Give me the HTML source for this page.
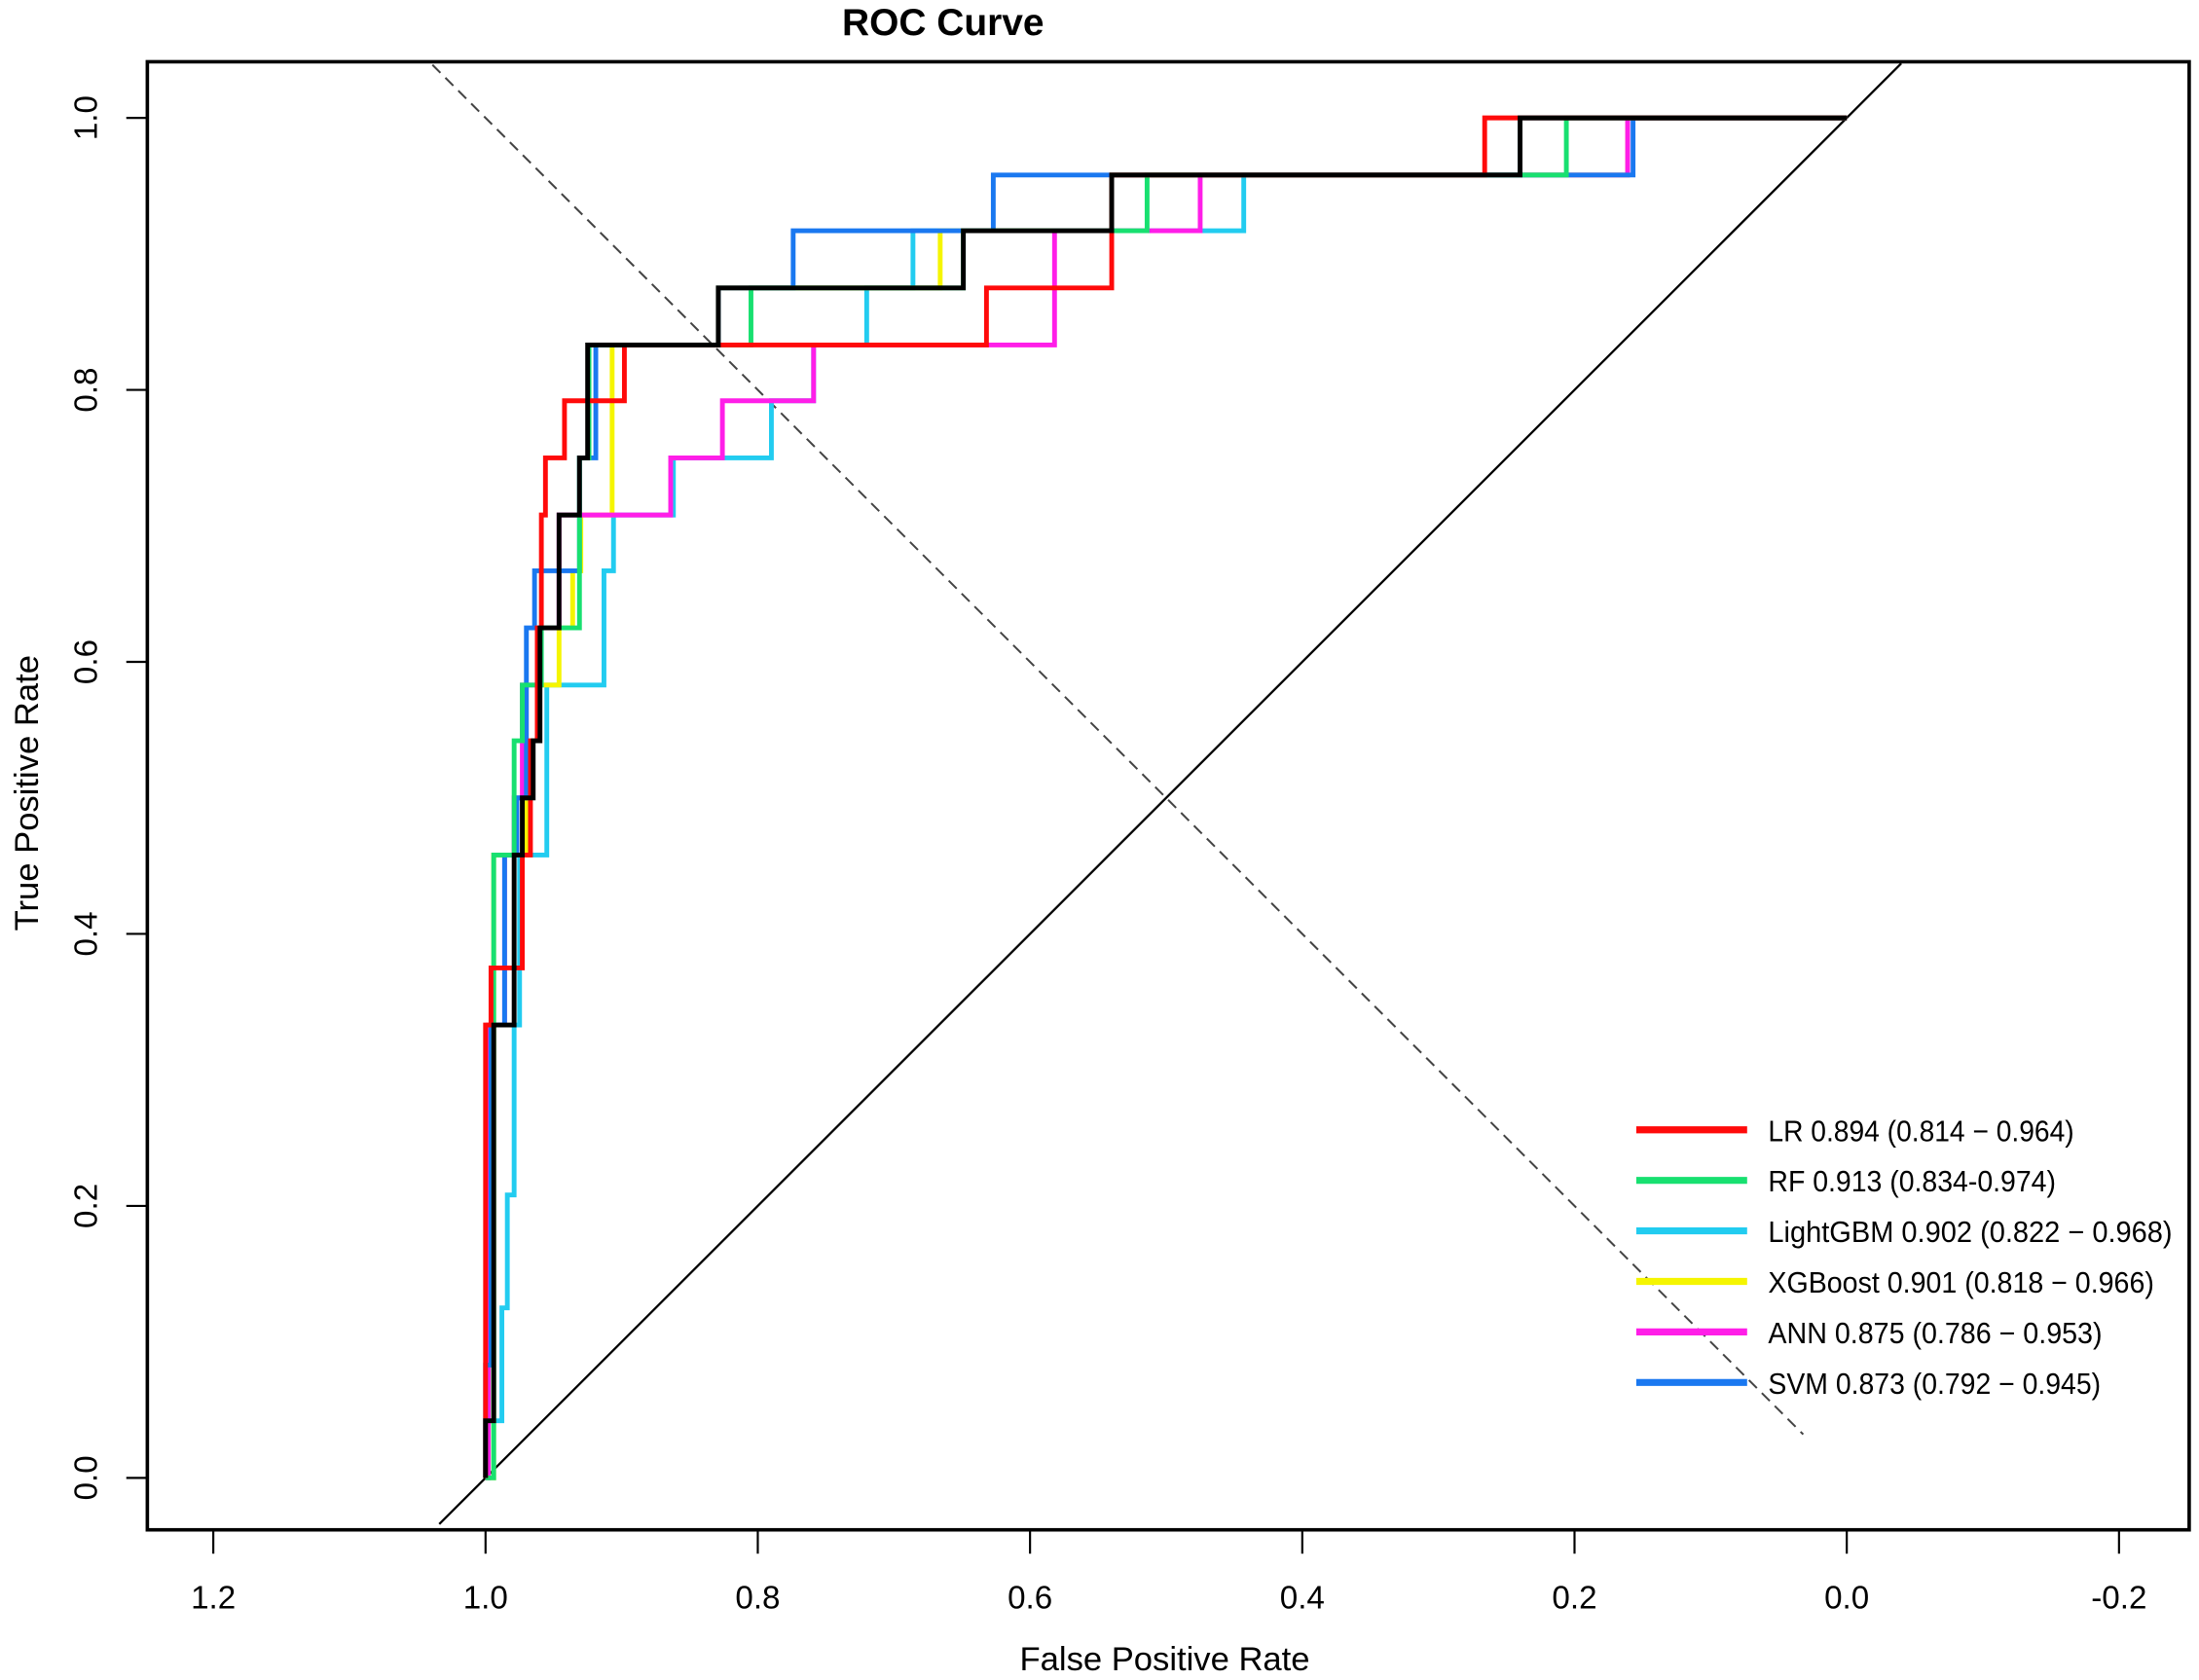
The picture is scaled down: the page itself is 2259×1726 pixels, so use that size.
<!DOCTYPE html>
<html><head><meta charset="utf-8">
<style>
html,body{margin:0;padding:0;background:#fff;}
svg{display:block;}
text{font-family:"Liberation Sans",sans-serif;}
</style></head>
<body>
<svg id="chart" width="2259" height="1726" viewBox="0 0 1567 1197" preserveAspectRatio="none" xmlns="http://www.w3.org/2000/svg">
<text x="672" y="25" text-anchor="middle" font-size="27" font-weight="bold">ROC Curve</text>
<g id="plot"></g>
<rect x="105" y="44" width="1455" height="1046" fill="none" stroke="#000" stroke-width="2.5"/>
<text x="830" y="1190" text-anchor="middle" font-size="24">False Positive Rate</text>
<text transform="translate(27,565) rotate(-90)" text-anchor="middle" font-size="24">True Positive Rate</text>
<g id="axes"></g>
<g id="legend"></g>
</svg>
<script>
const xTicks = [1.2, 1.0, 0.8, 0.6, 0.4, 0.2, 0.0, -0.2];
const xTickLabels = ["1.2","1.0","0.8","0.6","0.4","0.2","0.0","-0.2"];
const yTicks = [0.0, 0.2, 0.4, 0.6, 0.8, 1.0];
const yTickLabels = ["0.0","0.2","0.4","0.6","0.8","1.0"];
const seriesNames = ["LightGBM","XGBoost","ANN","SVM","RF","LR","Combined"];
const seriesColors = ["#22ccf0","#f5f500","#ff1ee8","#1a78f0","#18e070","#ff0a0a","#000000"];
const lgbmSpec = [0.998,0.988,0.984,0.979,0.975,0.955,0.913,0.906,0.862,0.790,0.759,0.720,0.686,0.443,0.240];
const lgbmSens = [0.042,0.125,0.208,0.333,0.458,0.583,0.667,0.708,0.750,0.792,0.833,0.875,0.917,0.958,1.0];
const xgbSpec = [0.994,0.970,0.962,0.946,0.936,0.930,0.907,0.829,0.666,0.540,0.161];
const xgbSens = [0.458,0.542,0.583,0.625,0.667,0.708,0.833,0.875,0.917,0.958,1.0];
const annSpec = [0.998,0.986,0.979,0.973,0.960,0.946,0.864,0.826,0.759,0.582,0.475,0.161];
const annSens = [0.333,0.458,0.500,0.583,0.625,0.708,0.750,0.792,0.833,0.917,0.958,1.0];
const svmSpec = [1.0,0.996,0.986,0.977,0.970,0.964,0.931,0.919,0.829,0.774,0.627,0.157];
const svmSens = [0.083,0.333,0.458,0.500,0.625,0.667,0.750,0.833,0.875,0.917,0.958,1.0];
const rfSpec = [0.994,0.979,0.973,0.959,0.931,0.924,0.805,0.649,0.514,0.206];
const rfSens = [0.458,0.542,0.583,0.625,0.750,0.833,0.875,0.917,0.958,1.0];
const lrSpec = [1.0,0.996,0.973,0.967,0.962,0.959,0.956,0.942,0.898,0.632,0.540,0.266];
const lrSens = [0.333,0.375,0.458,0.542,0.625,0.708,0.750,0.792,0.833,0.875,0.958,1.0];
const blkSpec = [1.0,0.994,0.979,0.973,0.965,0.960,0.946,0.931,0.925,0.829,0.649,0.540,0.240];
const blkSens = [0.042,0.333,0.458,0.500,0.542,0.625,0.708,0.750,0.833,0.875,0.917,0.958,1.0];
const legendLabels = ["LR 0.894 (0.814 \u2212 0.964)","RF 0.913 (0.834-0.974)","LightGBM 0.902 (0.822 \u2212 0.968)","XGBoost 0.901 (0.818 \u2212 0.966)","ANN 0.875 (0.786 \u2212 0.953)","SVM 0.873 (0.792 \u2212 0.945)"];
const legendColors = ["#ff0a0a","#18e070","#22ccf0","#f5f500","#ff1ee8","#1a78f0"];

const NS = "http://www.w3.org/2000/svg";
function xs(v){ return 346 + (1 - v) * 970; }
function ys(v){ return 1053 - v * 969; }
function mk(tag, attrs, parent){ const e = document.createElementNS(NS, tag); for (const k in attrs) e.setAttribute(k, attrs[k]); parent.appendChild(e); return e; }

const plot = document.getElementById('plot');
const diag = mk('line', {x1: xs(1.034), y1: ys(-0.034), x2: xs(-0.04), y2: ys(1.04), stroke:'#000', 'stroke-width':1.6}, plot);


const dash = mk('line', {x1: xs(1.039), y1: ys(1.039), x2: xs(0.032), y2: ys(0.032), stroke:'#444', 'stroke-width':1.4, 'stroke-dasharray':'8,5'}, plot);



const allSpec = [lgbmSpec, xgbSpec, annSpec, svmSpec, rfSpec, lrSpec, blkSpec];
const allSens = [lgbmSens, xgbSens, annSens, svmSens, rfSens, lrSens, blkSens];
allSpec.forEach((sp, i) => {
  const se = allSens[i];
  let d = 'M' + xs(1) + ' ' + ys(0);
  let prev = 0;
  for (let j = 0; j < sp.length; j++) {
    d += ' L' + xs(sp[j]) + ' ' + ys(prev) + ' L' + xs(sp[j]) + ' ' + ys(se[j]);
    prev = se[j];
  }
  d += ' L' + xs(0) + ' ' + ys(prev);
  const p = mk('path', {d: d, fill:'none', stroke: seriesColors[i], 'stroke-width': 3.4}, plot);
  
  
});

const axes = document.getElementById('axes');
xTicks.forEach((v, i) => {
  const t = mk('line', {x1: xs(v), y1: 1090, x2: xs(v), y2: 1107, stroke:'#000', 'stroke-width':1.5}, axes);
  
  
  const l = mk('text', {x: xs(v), y: 1146, 'text-anchor':'middle', 'font-size':23}, axes);
  l.textContent = xTickLabels[i];
  
  
});
yTicks.forEach((v, i) => {
  const t = mk('line', {x1: 90, y1: ys(v), x2: 105, y2: ys(v), stroke:'#000', 'stroke-width':1.5}, axes);
  
  
  const l = mk('text', {transform: 'translate(69,' + ys(v) + ') rotate(-90)', 'text-anchor':'middle', 'font-size':23}, axes);
  l.textContent = yTickLabels[i];
  
  
});

const legend = document.getElementById('legend');
const legendWidths = [218, 205, 288, 275, 238, 237];
legendLabels.forEach((lab, i) => {
  const y = 805 + i * 36;
  const ln = mk('line', {x1: 1166, y1: y, x2: 1245, y2: y, stroke: legendColors[i], 'stroke-width': 5}, legend);
  
  
  const tx = mk('text', {x: 1260, y: y + 8, 'font-size': 21, textLength: legendWidths[i], lengthAdjust: 'spacingAndGlyphs'}, legend);
  tx.textContent = lab;
  
  
});
</script>
</body></html>
